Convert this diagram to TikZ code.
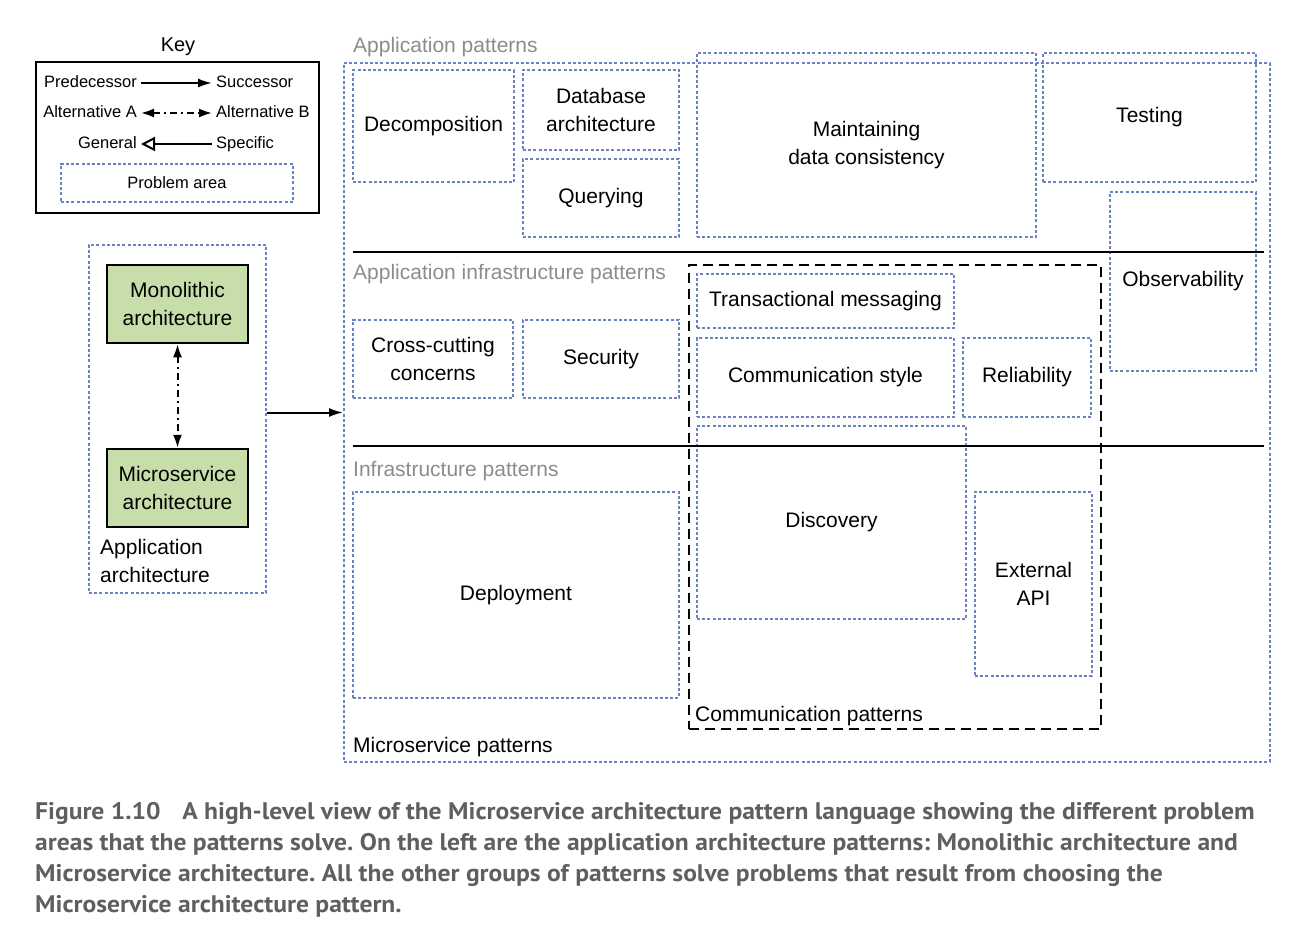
\documentclass[tikz,border=0pt]{standalone}
\usepackage{fontspec}
\setmainfont{Liberation Sans}
\newfontfamily\capfont[FakeStretch=1.065]{PT Sans}
\usetikzlibrary{arrows.meta}
\definecolor{pblue}{RGB}{104,130,194}
\definecolor{lblgray}{RGB}{140,140,140}
\definecolor{capgray}{RGB}{95,95,95}
\definecolor{archgreen}{RGB}{200,222,170}
\newcommand\mainfs{\fontsize{21}{27.5}\selectfont}
\newcommand\keyfs{\fontsize{16.5}{20}\selectfont}
\frenchspacing
\begin{document}
\begin{tikzpicture}[x=1pt,y=-1pt,
  pbox/.style={draw=pblue, line width=2pt, dash pattern=on 3pt off 2.2pt, rectangle, inner sep=0pt, align=center, font=\mainfs},
  archbox/.style={draw=black, line width=2.5pt, fill=archgreen, rectangle, inner sep=0pt, align=center, font=\mainfs, minimum width=141pt, minimum height=78pt},
  keytxt/.style={font=\keyfs, inner sep=4pt, text height=12pt, text depth=3.5pt},
  grlbl/.style={font=\mainfs, text=lblgray, inner sep=0pt, anchor=base west},
  blklbl/.style={font=\mainfs, inner sep=0pt, anchor=base west},
  solidarrow/.style={line width=2pt, -{Latex[length=14pt,width=9pt]}},
  altarrow/.style={line width=2pt, dash pattern=on 7pt off 4pt on 2pt off 4pt, {Latex[length=13pt,width=9pt]}-{Latex[length=13pt,width=9pt]}},
  genarrow/.style={line width=2pt, {Triangle[open,length=14pt,width=14pt,line width=2pt]}-},
  sepline/.style={line width=2pt}
]
\useasboundingbox (0,0) rectangle (1298,936);

% ---------- Key ----------
\node[font=\fontsize{20}{24}\selectfont, inner sep=0pt] (keytitle) at (178,47) {Key};
\node[draw=black, line width=2.5pt, rectangle, minimum width=283pt, minimum height=151pt, inner sep=0pt] (keybox) at (177.5,137.5) {};
\node[keytxt, anchor=east] (pred) at (141,83) {Predecessor};
\node[keytxt, anchor=west] (succ) at (212,83) {Successor};
\draw[solidarrow] (pred.east) -- (succ.west);
\node[keytxt, anchor=east] (alta) at (141,113) {Alternative A};
\node[keytxt, anchor=west] (altb) at (212,113) {Alternative B};
\draw[altarrow] (alta.east) -- (altb.west);
\node[keytxt, anchor=east] (gen) at (141,144) {General};
\node[keytxt, anchor=west] (spec) at (212,144) {Specific};
\draw[genarrow] (gen.east) -- (spec.west);
\node[pbox, font=\keyfs, minimum width=232pt, minimum height=38pt] (parea) at (177,183) {Problem area};

% ---------- Application architecture ----------
\node[pbox, minimum width=177pt, minimum height=348pt] (apparch) at (177.5,419) {};
\node[archbox] (mono) at (177.5,304) {Monolithic\\architecture};
\node[archbox] (micro) at (177.5,488) {Microservice\\architecture};
\draw[altarrow] (mono.south) -- (micro.north);
\node[font=\mainfs, inner sep=0pt, anchor=west, align=left] (applbl) at (100,561) {Application\\architecture};

% ---------- Microservice patterns ----------
\node[pbox, minimum width=926pt, minimum height=699pt] (msp) at (807,412.5) {};
\draw[solidarrow] (apparch.east |- msp.west) -- (msp.west);

\node[grlbl] (applpat) at (353,53) {Application patterns};
\node[grlbl] (infrapat) at (353,279) {Application infrastructure patterns};
\node[grlbl] (infpat) at (353,476) {Infrastructure patterns};
\node[blklbl] (msplbl) at (353,752) {Microservice patterns};

\coordinate (la1) at (353,252);
\coordinate (lb1) at (1264,252);
\coordinate (la2) at (353,446);
\coordinate (lb2) at (1264,446);

% application patterns
\node[pbox, minimum width=161pt, minimum height=112pt] (decomp) at (433.5,126) {Decomposition};
\node[pbox, minimum width=156pt, minimum height=80pt] (dbarch) at (601,110) {Database\\architecture};
\node[pbox, minimum width=156pt, minimum height=78pt] (query) at (601,198) {Querying};
\node[pbox, minimum width=339pt, minimum height=184pt] (consist) at (866.5,145) {Maintaining\\data consistency};
\node[pbox, minimum width=213pt, minimum height=129pt] (testing) at (1149.5,117.5) {Testing};
\node[pbox, minimum width=146pt, minimum height=179pt] (observ) at (1183,281.5) {Observability};

% application infrastructure patterns
\node[pbox, minimum width=160pt, minimum height=78pt] (crosscut) at (433,359) {Cross-cutting\\concerns};
\node[pbox, minimum width=156pt, minimum height=78pt] (security) at (601,359) {Security};

% communication patterns
\node[draw=black, line width=2.5pt, dash pattern=on 10pt off 6pt, rectangle, minimum width=412pt, minimum height=464pt, inner sep=0pt] (commpat) at (895,497) {};
\node[blklbl] (commlbl) at (695,721) {Communication patterns};
\node[pbox, minimum width=257pt, minimum height=54pt] (transmsg) at (825.5,301) {Transactional messaging};
\node[pbox, minimum width=257pt, minimum height=79pt] (commstyle) at (825.5,377.5) {Communication style};
\node[pbox, minimum width=128pt, minimum height=79pt] (reliab) at (1027,377.5) {Reliability};
\node[pbox, minimum width=269pt, minimum height=193pt] (discov) at (831.5,522.5) {Discovery};
\node[pbox, minimum width=117pt, minimum height=184pt] (extapi) at (1033.5,584) {External\\API};

% infrastructure patterns
\node[pbox, minimum width=326pt, minimum height=206pt] (deploy) at (516,595) {Deployment};

\draw[sepline] (la1) -- (lb1);
\draw[sepline] (la2) -- (lb2);

% ---------- Caption ----------
\node[anchor=north west, align=left, inner sep=0pt, text=capgray,
      font=\capfont\bfseries\fontsize{24}{31}\selectfont] (caption) at (35,802)
{Figure 1.10\hspace{0.9em}A high-level view of the Microservice architecture pattern language showing the different problem\\
areas that the patterns solve. On the left are the application architecture patterns: Monolithic architecture and\\
Microservice architecture. All the other groups of patterns solve problems that result from choosing the\\
Microservice architecture pattern.};
\end{tikzpicture}
\end{document}
